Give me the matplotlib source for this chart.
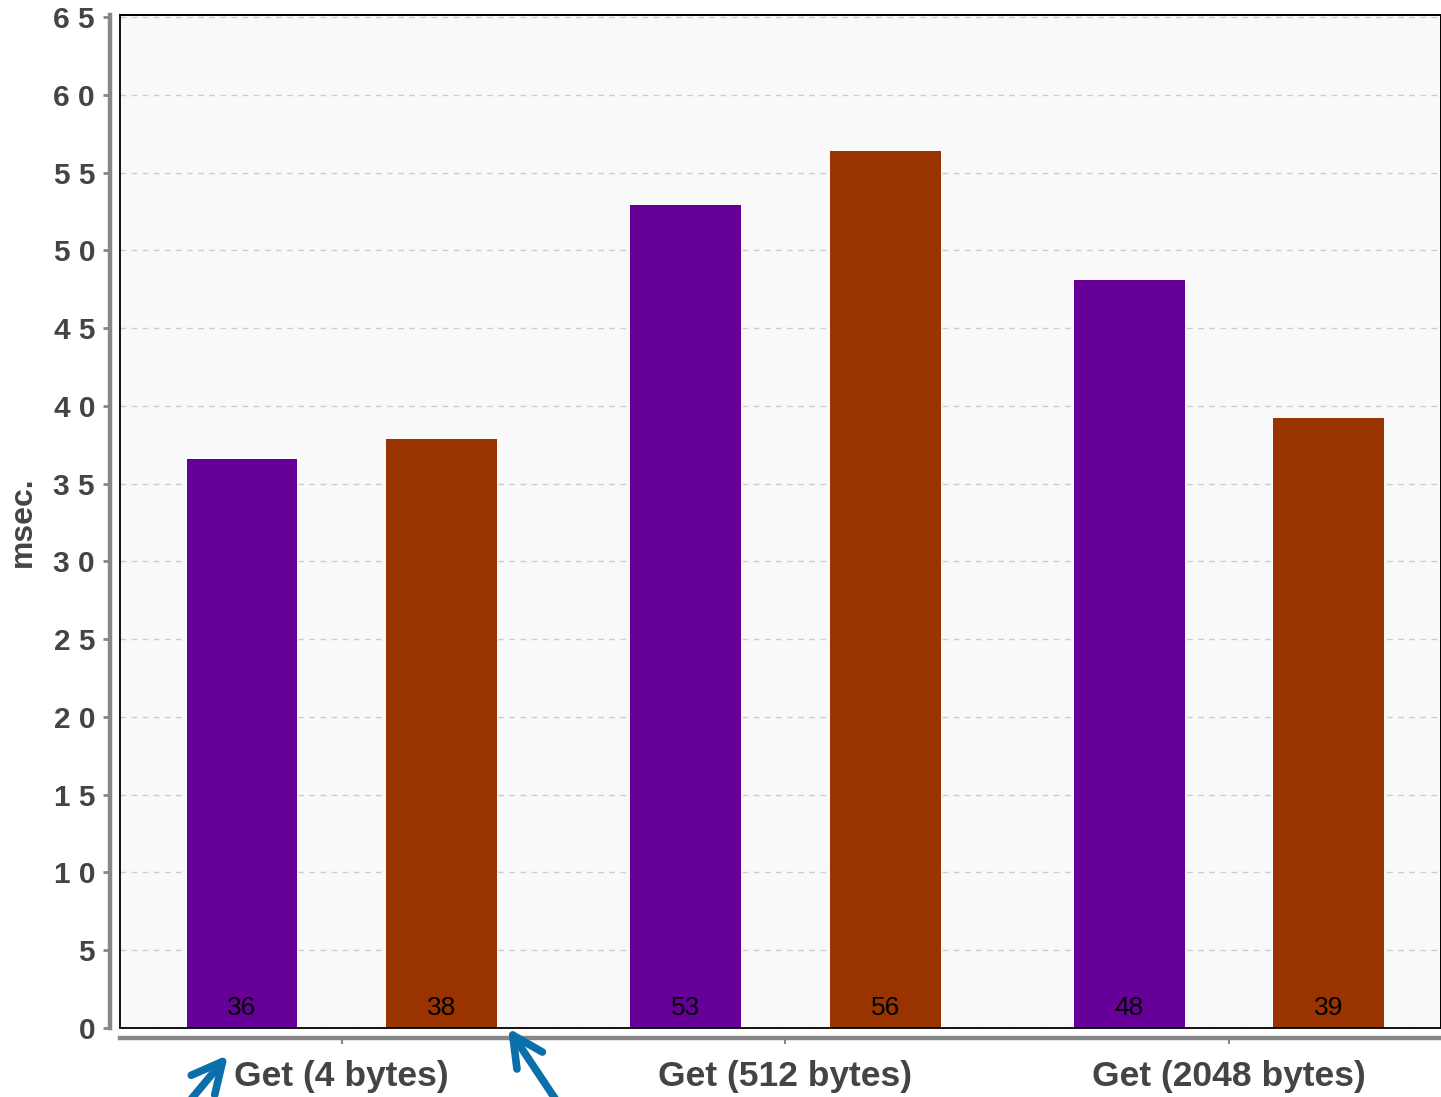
import matplotlib
matplotlib.use("Agg")
import matplotlib.pyplot as plt
import numpy as np
from matplotlib.patches import Rectangle

categories = ["Get (4 bytes)", "Get (512 bytes)", "Get (2048 bytes)"]
series_a = [36.6, 52.9, 48.1]
series_b = [37.9, 56.4, 39.2]
labels_a = ["36", "53", "48"]
labels_b = ["38", "56", "39"]
yticks = [0, 5, 10, 15, 20, 25, 30, 35, 40, 45, 50, 55, 60, 65]

col_a = "#660099"
col_b = "#993300"
txt_col = "#444444"
plt.rcParams['font.family'] = ['Liberation Sans', 'DejaVu Sans']

W, H = 1441, 1097
fig = plt.figure(figsize=(W/100, H/100), dpi=100)
ax = fig.add_axes([120/W, (H-1028)/H, 1321/W, 1013/H])
ax.set_facecolor("#f9f9f9")

for s in ['left', 'bottom']:
    ax.spines[s].set_position(('outward', 7))
    ax.spines[s].set_color('#888888')
    ax.spines[s].set_linewidth(3.2)
for s in ['top', 'right']:
    ax.spines[s].set_color('black')
    ax.spines[s].set_linewidth(1.3)
ax.add_patch(Rectangle((0, 0), 1, 1, transform=ax.transAxes, fill=False,
                       ec='black', lw=1.3, clip_on=False, zorder=5))

x = np.arange(len(categories))
off, bw = 0.225, 0.25
ax.bar(x - off, series_a, bw, color=col_a, zorder=3)
ax.bar(x + off, series_b, bw, color=col_b, zorder=3)
for xi, la, lb in zip(x, labels_a, labels_b):
    ax.annotate(la, (xi - off, 0), xytext=(0, 6), textcoords='offset points',
                ha='center', va='bottom', fontsize=19, color='black', zorder=4)
    ax.annotate(lb, (xi + off, 0), xytext=(0, 6), textcoords='offset points',
                ha='center', va='bottom', fontsize=19, color='black', zorder=4)

ax.set_xlim(-0.5, 2.478)
ax.set_ylim(0, 65.13)
ax.grid(axis='y', color='#cccccc', linestyle=(0, (4, 4)), linewidth=1, zorder=0)

ax.tick_params(axis='y', direction='out', length=5, width=2, color='#888888', pad=6)
ax.tick_params(axis='x', direction='out', length=4, width=1.5, color='#888888', pad=12)

ax.set_yticks(yticks)
ax.set_yticklabels([" ".join(str(v)) for v in yticks], fontsize=21.5,
                   fontweight='bold', color=txt_col)
ax.set_xticks(x)
ax.set_xticklabels(categories, fontsize=25.5, fontweight='bold', color=txt_col)

ax.set_ylabel("msec.", fontsize=23, fontweight='bold', color=txt_col)
ax.yaxis.set_label_coords(-0.062, 0.5)

blue = "#0b6fab"
arrow_kw = dict(arrowstyle='->,head_length=2.2,head_width=1.1', lw=5.5,
                color=blue, capstyle='round', joinstyle='round',
                shrinkA=0, shrinkB=0)
ax.annotate('', xy=(228, H-1055), xytext=(188, -6), xycoords='figure pixels',
            textcoords='figure pixels', arrowprops=arrow_kw, annotation_clip=False)
ax.annotate('', xy=(508, H-1028), xytext=(558, -6), xycoords='figure pixels',
            textcoords='figure pixels', arrowprops=arrow_kw, annotation_clip=False)

fig.savefig("out.png", dpi=100)
